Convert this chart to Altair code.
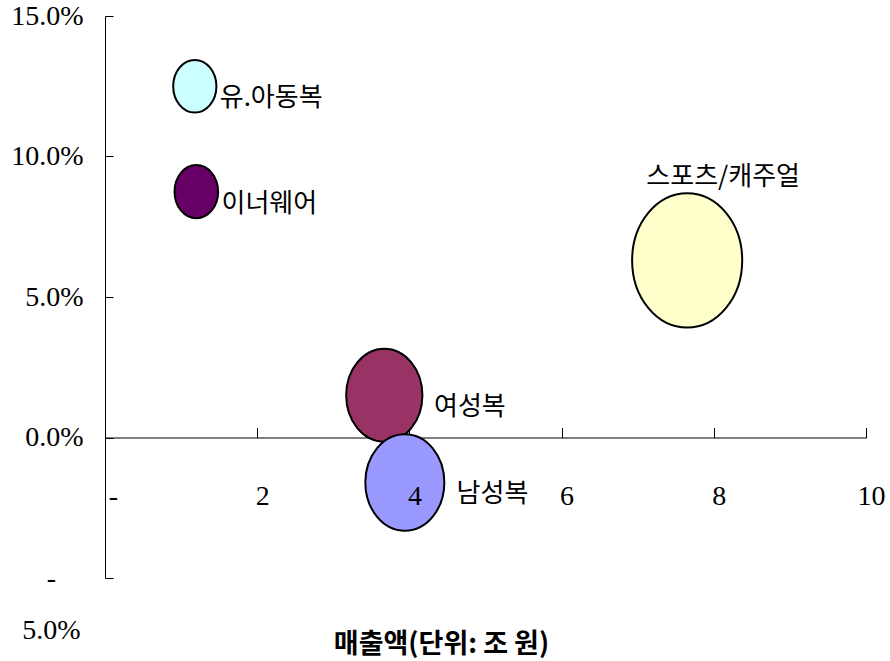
import altair as alt
import pandas as pd

# Apparel segments: sales (trillion KRW, also drives bubble area) vs. growth rate
segments = ["유.아동복", "이너웨어", "스포츠/캐주얼", "여성복", "남성복"]
sales = [1.18, 1.20, 7.65, 3.67, 3.94]
growth = [0.125, 0.0875, 0.063, 0.015, -0.016]
colors = ["#CCFFFF", "#660066", "#FFFFCC", "#993366", "#9999FF"]

x_ticks = [0, 2, 4, 6, 8, 10]
y_ticks = [-0.05, 0.0, 0.05, 0.10, 0.15]
x_title = "매출액(단위: 조 원)"
above_label = "스포츠/캐주얼"

df = pd.DataFrame({"segment": segments, "sales": sales, "growth": growth})

PLOT_W, PLOT_H = 761, 562
X_DOMAIN = [0, 10]
Y_DOMAIN = [-0.05, 0.15]
AREA_PER_UNIT = 1584  # px^2 of bubble area per unit of sales
ZERO_FROM_TOP = PLOT_H * (Y_DOMAIN[1] - 0) / (Y_DOMAIN[1] - Y_DOMAIN[0])

KR = "Noto Sans CJK KR"
SERIF = "Liberation Serif"

# slightly tall ellipse used as the bubble glyph
ELLIPSE = ("M0,-1.22C0.5523,-1.22 1,-0.6738 1,0C1,0.6738 0.5523,1.22 0,1.22"
           "C-0.5523,1.22 -1,0.6738 -1,0C-1,-0.6738 -0.5523,-1.22 0,-1.22Z")

x_scale = alt.Scale(domain=X_DOMAIN, nice=False, zero=False)
y_scale = alt.Scale(domain=Y_DOMAIN, nice=False, zero=False)

base = alt.Chart(df)

# x axis line through 0% with upward ticks
x_line_axis = alt.Axis(
    orient="top", offset=-ZERO_FROM_TOP, values=x_ticks, labels=False,
    ticks=True, tickSize=10, domain=True, grid=False, title=None,
    domainColor="black", tickColor="black", domainWidth=1, tickWidth=1, zindex=0,
)
# x tick labels below the 0% line, plus the axis title
x_label_axis = alt.Axis(
    orient="bottom", offset=-(PLOT_H - ZERO_FROM_TOP), values=x_ticks,
    ticks=False, tickSize=0, domain=False, grid=False,
    labelExpr="datum.value == 0 ? '-' : format(datum.value, 'd')",
    labelFont=SERIF, labelFontSize=28, labelColor="black",
    labelBaseline="middle", labelPadding=59, labelFlush=False,
    labelOffset={"condition": {"test": "datum.value == 0", "value": 8}, "value": 5},
    title=x_title, titleFont=KR, titleFontSize=27, titleFontWeight="bold",
    titleColor="black", titleBaseline="middle", titleAlign="center",
    titleX=336, titleY=207, zindex=1,
)
# y axis line with percentage labels
y_label_axis = alt.Axis(
    orient="left", values=y_ticks, ticks=False, tickSize=0, domain=True,
    grid=False, title=None, domainColor="black", domainWidth=1,
    labelExpr="datum.value < 0 ? ['-', format(-datum.value, '.1%')] : format(datum.value, '.1%')",
    labelFont=SERIF, labelFontSize=28, labelColor="black",
    labelBaseline="middle", labelLineHeight=52,
    labelAlign={"condition": {"test": "datum.value < 0", "value": "center"}, "value": "right"},
    labelPadding={"condition": {"test": "datum.value < 0", "value": 54}, "value": 22},
    zindex=0,
)
# inward-pointing ticks on the y axis line
y_tick_axis = alt.Axis(
    orient="right", offset=-PLOT_W, values=y_ticks, labels=False, ticks=True,
    tickSize=8, domain=False, grid=False, title=None, tickColor="black",
    tickWidth=1, zindex=0,
)

bubbles = base.mark_point(
    shape=ELLIPSE, filled=True, stroke="black", strokeWidth=2,
    opacity=1, fillOpacity=1,
).encode(
    x=alt.X("sales:Q", scale=x_scale, axis=x_line_axis),
    y=alt.Y("growth:Q", scale=y_scale, axis=y_label_axis),
    size=alt.Size("sales:Q", scale=alt.Scale(domain=[0, 10], range=[0, AREA_PER_UNIT * 10]), legend=None),
    fill=alt.Fill("segment:N", scale=alt.Scale(domain=segments, range=colors), legend=None),
)

# labels to the right of each bubble, pushed out by the bubble's radius
side_labels = base.transform_filter(
    alt.datum.segment != above_label
).mark_text(
    align="left", baseline="middle", font=KR, fontSize=26, color="black",
    dx=alt.ExprRef(expr=f"sqrt(datum.sales * {AREA_PER_UNIT}) / 2 * 1.5 - 7.5"), dy=12,
).encode(
    x=alt.X("sales:Q", scale=x_scale, axis=x_label_axis),
    y=alt.Y("growth:Q", scale=y_scale, axis=y_tick_axis),
    text="segment:N",
)

top_label = base.transform_filter(
    alt.datum.segment == above_label
).mark_text(
    align="center", baseline="middle", font=KR, fontSize=26, color="black",
    dx=36, dy=-83,
).encode(
    x=alt.X("sales:Q", scale=x_scale, axis=None),
    y=alt.Y("growth:Q", scale=y_scale, axis=None),
    text="segment:N",
)

chart = alt.layer(bubbles, side_labels, top_label).resolve_axis(
    x="independent", y="independent"
).properties(
    width=PLOT_W, height=PLOT_H,
    autosize=alt.AutoSizeParams(type="none"),
    padding={"left": 105, "top": 16, "right": 24, "bottom": 83},
    background="white",
).configure_view(stroke=None)

chart.save("out.html", embed_options={"renderer": "svg", "actions": False})
